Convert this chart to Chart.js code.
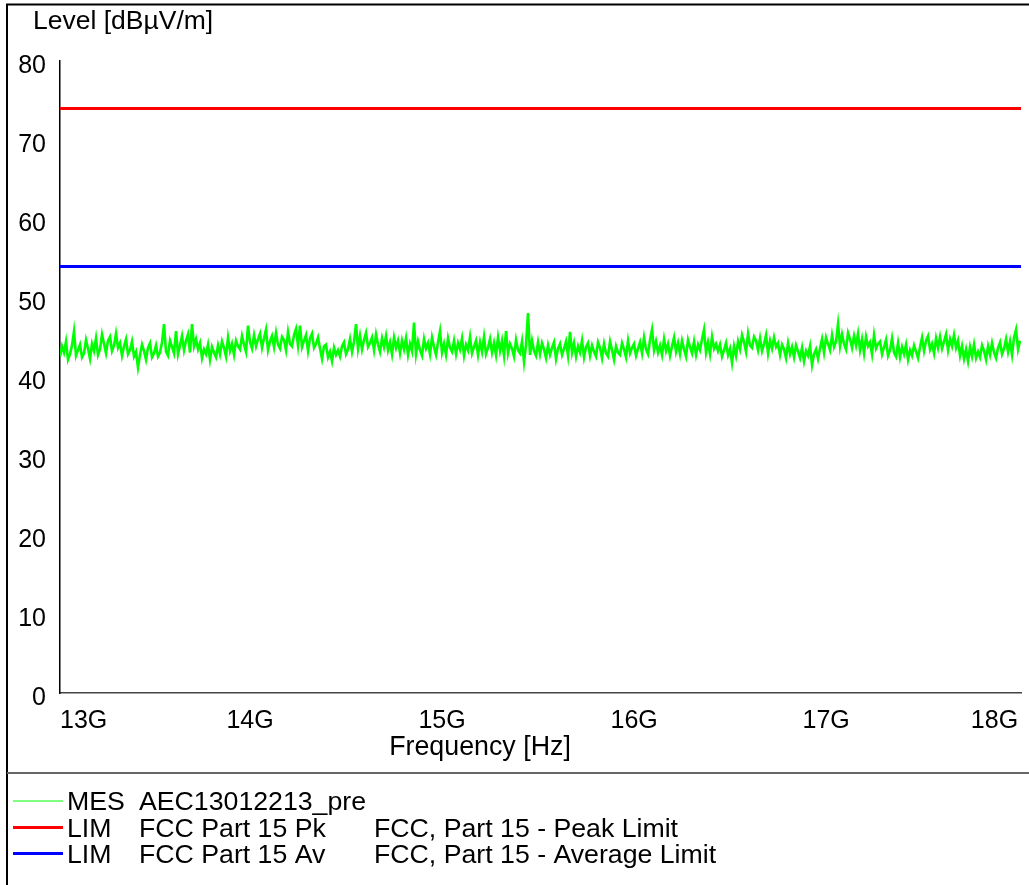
<!DOCTYPE html>
<html>
<head>
<meta charset="utf-8">
<title>Level vs Frequency</title>
<script src="https://cdn.jsdelivr.net/npm/chart.js@4.4.1/dist/chart.umd.min.js"></script>
<style>
  html, body { margin: 0; padding: 0; background: #ffffff; }
  #wrap { width: 1029px; height: 885px; }
</style>
</head>
<body>
<div id="wrap"><canvas id="chart" width="1029" height="885"></canvas></div>
<script>
// Sweep settings of the measurement (Hz)
const sweepStart = 13.01e9;
const sweepStop = 18.01e9;

// Measured level of the scan, dBµV/m, one value per sweep point
const mesLevels = [
  42.6, 43.9, 43.1, 44.5, 42.2, 42.9, 44.0, 45.8, 42.7, 43.4,
  44.1, 42.5, 43.0, 44.7, 43.6, 42.3, 44.2, 43.3, 44.9, 42.8,
  43.5, 45.4, 44.2, 43.0, 44.6, 45.1, 43.3, 44.0, 45.5, 43.7,
  44.3, 42.7, 43.9, 44.8, 42.9, 43.4, 44.5, 42.6, 43.2, 41.2,
  42.8, 44.1, 43.3, 42.2, 43.7, 44.3, 42.5, 43.0, 44.0, 42.6,
  43.1, 44.4, 46.7, 43.2, 42.7, 44.6, 43.8, 43.0, 45.8, 42.9,
  44.0, 45.2, 43.4, 44.6, 45.4, 43.1, 46.7, 43.9, 44.8, 43.5,
  44.3, 42.4, 43.5, 42.9, 44.1, 42.2, 43.8, 43.1, 42.5, 44.0,
  42.9, 44.5, 43.7, 42.6, 45.0, 43.3, 44.2, 42.8, 44.6, 43.9,
  43.5, 45.2, 44.1, 43.2, 46.5, 44.4, 43.6, 45.3, 43.9, 44.8,
  45.5, 43.7, 44.9, 46.0, 43.4, 44.5, 45.2, 43.8, 45.6, 44.1,
  43.6, 45.1, 44.7, 43.4, 45.7, 44.2, 43.9, 45.3, 46.1, 44.0,
  46.5, 43.8, 44.6, 45.3, 43.3, 44.9, 45.5, 43.7, 44.2, 45.0,
  43.6, 42.3, 43.9, 44.1, 42.5, 43.2, 42.0, 43.7, 42.8, 43.4,
  42.6, 43.9, 44.4, 42.9, 43.5, 44.8, 43.2, 44.5, 46.7, 43.6,
  45.2, 43.5, 44.7, 45.6, 43.8, 44.3, 45.0, 43.4, 45.4, 44.1,
  43.2, 44.9, 43.8, 45.2, 43.4, 44.4, 42.9, 45.0, 43.7, 44.6,
  43.0, 44.6, 43.5, 44.9, 42.8, 44.2, 43.3, 46.9, 42.9, 44.5,
  43.4, 42.7, 44.8, 43.6, 44.3, 42.9, 45.0, 43.8, 42.8, 44.4,
  45.8, 43.1, 44.2, 42.8, 44.9, 43.7, 43.2, 44.6, 42.9, 44.3,
  43.5, 44.9, 42.7, 44.1, 43.4, 45.1, 43.0, 43.8, 44.6, 42.8,
  44.4, 43.2, 45.1, 42.9, 43.7, 44.8, 43.1, 44.3, 42.8, 45.0,
  43.3, 44.6, 42.7, 45.8, 43.0, 44.2, 43.6, 42.6, 44.7, 43.4,
  43.0, 44.5, 41.9, 44.1, 48.1, 42.8, 44.6, 43.3, 42.7, 44.4,
  42.9, 44.3, 43.5, 42.4, 44.0, 42.8, 43.7, 44.4, 42.3, 43.6,
  44.2, 42.8, 43.6, 44.5, 42.7, 45.7, 43.1, 44.3, 42.6, 43.9,
  43.1, 44.6, 42.5, 43.8, 44.3, 42.7, 44.0, 43.2, 42.6, 44.4,
  43.7, 42.4, 44.2, 43.0, 42.6, 44.5, 43.4, 42.2, 43.9, 43.1,
  42.8, 44.3, 43.5, 42.5, 44.6, 43.0, 43.7, 44.2, 42.7, 43.6,
  44.4, 43.0, 45.0, 43.5, 42.9, 44.7, 46.0, 43.4, 44.5, 43.1,
  44.0, 42.8, 44.8, 43.3, 44.2, 42.7, 43.9, 45.0, 43.2, 44.3,
  42.9, 44.6, 43.5, 42.6, 44.7, 43.8, 43.0, 44.5, 42.8, 44.1,
  43.4, 44.8, 46.0, 43.1, 44.4, 42.9, 45.1, 43.6, 44.2, 43.3,
  44.1, 42.6, 43.4, 44.3, 42.8, 43.6, 41.8, 43.9, 42.7, 44.5,
  43.5, 45.3, 44.4, 43.2, 45.5, 44.0, 43.7, 45.1, 44.6, 43.4,
  44.9, 43.3, 44.2, 45.3, 43.0, 44.6, 43.6, 45.0, 43.8, 44.3,
  42.8, 44.1, 43.5, 42.4, 44.3, 42.9, 43.8, 42.5, 44.0, 43.2,
  42.4, 43.7, 42.0, 43.3, 42.7, 43.9, 41.5, 42.9, 43.5, 42.3,
  43.6, 44.8, 43.1, 45.0, 44.2, 43.4, 45.3, 43.8, 44.5, 46.7,
  43.9, 45.4, 44.2, 43.5, 45.6, 44.8, 43.7, 45.2, 44.0, 45.5,
  43.4, 44.8, 43.0, 45.1, 43.9, 44.4, 42.9, 45.3, 43.6, 44.2,
  44.5, 42.9, 43.8, 44.7, 42.7, 43.4, 44.9, 43.1, 42.6, 44.3,
  42.5, 43.8, 42.9, 44.1, 42.2, 43.4, 42.7, 44.0, 43.2, 42.4,
  43.8, 45.0, 43.3, 44.6, 45.2, 43.5, 44.2, 43.0, 44.9, 43.7,
  45.1, 43.6, 44.5, 45.4, 43.4, 44.8, 43.9, 45.3, 43.7, 44.6,
  42.7, 43.9, 42.3, 43.5, 42.0, 43.8, 42.6, 44.1, 42.4, 43.2,
  42.5, 44.0, 43.3, 42.2, 43.9, 42.8, 44.3, 43.1, 42.4, 43.7,
  44.4, 42.9, 43.6, 44.8, 43.2, 44.5, 42.8, 45.0, 46.0, 43.5,
  44.6
];

// FCC Part 15 limit lines (dBµV/m) over the scan range
const peakLimit = 74;
const averageLimit = 54;

// Axis ticks
const yTickValues = [0, 10, 20, 30, 40, 50, 60, 70, 80];
const xTickValues = [13.01e9, 14e9, 15e9, 16e9, 17e9, 18e9];

// Legend rows: trace type, name, description
const legendTypes = ['MES', 'LIM', 'LIM'];
const legendNames = ['AEC13012213_pre', 'FCC Part 15 Pk', 'FCC Part 15 Av'];
const legendDescriptions = ['', 'FCC, Part 15 - Peak Limit', 'FCC, Part 15 - Average Limit'];
const legendColors = ['#00ff00', '#ff0000', '#0000ff'];
const legendWidths = [1, 3, 3];

const yTitle = 'Level [dBµV/m]';
const xTitle = 'Frequency [Hz]';

const FONT = '"Liberation Sans", Arial, sans-serif';

// Build the point lists for the library
const step = (sweepStop - sweepStart) / (mesLevels.length - 1);
const mesPoints = mesLevels.map((v, i) => ({ x: sweepStart + i * step, y: v }));
const peakPoints = [{ x: 13.01e9, y: peakLimit }, { x: 18.015e9, y: peakLimit }];
const avgPoints = [{ x: 13.01e9, y: averageLimit }, { x: 18.015e9, y: averageLimit }];

// Frame, titles and the legend box around the plot
const decorPlugin = {
  id: 'decor',
  beforeDraw(chart) {
    const ctx = chart.ctx;
    ctx.save();
    ctx.fillStyle = '#ffffff';
    ctx.fillRect(0, 0, chart.width, chart.height);
    ctx.restore();
  },
  afterDraw(chart) {
    const ctx = chart.ctx;
    ctx.save();
    // outer frame
    ctx.strokeStyle = '#000000';
    ctx.lineWidth = 2;
    ctx.beginPath();
    ctx.moveTo(7, 885);
    ctx.lineTo(7, 4.5);
    ctx.lineTo(1029, 4.5);
    ctx.stroke();
    // divider above the legend
    ctx.strokeStyle = '#666666';
    ctx.lineWidth = 2;
    ctx.beginPath();
    ctx.moveTo(7, 773);
    ctx.lineTo(1029, 773);
    ctx.stroke();

    ctx.fillStyle = '#000000';
    ctx.textBaseline = 'middle';
    // axis titles
    ctx.font = '26.5px ' + FONT;
    ctx.textAlign = 'left';
    ctx.fillText(yTitle, 33, 22);
    ctx.textAlign = 'center';
    ctx.font = '26.8px ' + FONT;
    ctx.fillText(xTitle, 480, 748);

    // legend: line sample, type, name column, description column
    ctx.font = '26.7px ' + FONT;
    ctx.textAlign = 'left';
    const rowY = [801, 827.5, 853.5];
    for (let i = 0; i < legendTypes.length; i++) {
      ctx.strokeStyle = legendColors[i];
      ctx.lineWidth = legendWidths[i];
      ctx.beginPath();
      ctx.moveTo(13, rowY[i]);
      ctx.lineTo(63, rowY[i]);
      ctx.stroke();
      ctx.fillStyle = '#000000';
      ctx.fillText(legendTypes[i], 67, rowY[i] + 2);
      ctx.fillText(legendNames[i], 139, rowY[i] + 2);
      if (legendDescriptions[i]) {
        ctx.fillText(legendDescriptions[i], 374, rowY[i] + 2);
      }
    }
    ctx.restore();
  }
};

new Chart(document.getElementById('chart'), {
  type: 'line',
  data: {
    datasets: [
      {
        label: 'MES AEC13012213_pre',
        data: mesPoints,
        borderColor: '#00ff00',
        borderWidth: 2.6,
        borderJoinStyle: 'miter',
        pointRadius: 0,
        tension: 0,
        order: 3
      },
      {
        label: 'LIM FCC Part 15 Pk',
        data: peakPoints,
        borderColor: '#ff0000',
        borderWidth: 3,
        pointRadius: 0,
        order: 1
      },
      {
        label: 'LIM FCC Part 15 Av',
        data: avgPoints,
        borderColor: '#0000ff',
        borderWidth: 3,
        pointRadius: 0,
        order: 2
      }
    ]
  },
  options: {
    responsive: false,
    animation: false,
    events: [],
    layout: { padding: { top: 61, right: 8, left: 0, bottom: 0 } },
    plugins: {
      legend: { display: false },
      tooltip: { enabled: false },
      title: { display: false }
    },
    scales: {
      x: {
        type: 'linear',
        min: 13.01e9,
        max: 18.015e9,
        afterFit(scale) {
          scale.height = 192;
          scale.paddingLeft = 0;
          scale.paddingRight = 0;
        },
        afterBuildTicks(scale) { scale.ticks = xTickValues.map(v => ({ value: v })); },
        grid: { display: false, drawTicks: false },
        border: { display: true, color: '#444444', width: 1.5 },
        ticks: {
          align: 'inner',
          maxRotation: 0,
          autoSkip: false,
          padding: 13,
          color: '#000000',
          font: { family: FONT, size: 25 },
          callback: (v) => Math.round(v / 1e9) + 'G'
        }
      },
      y: {
        type: 'linear',
        min: 0,
        max: 80,
        afterFit(scale) {
          scale.width = 60;
          scale.paddingTop = 0;
          scale.paddingBottom = 0;
        },
        afterBuildTicks(scale) { scale.ticks = yTickValues.map(v => ({ value: v })); },
        grid: { display: false, drawTicks: false },
        border: { display: true, color: '#000000', width: 1.5 },
        ticks: {
          padding: 14,
          labelOffset: 5,
          color: '#000000',
          font: { family: FONT, size: 25 }
        }
      }
    }
  },
  plugins: [decorPlugin]
});
</script>
</body>
</html>
